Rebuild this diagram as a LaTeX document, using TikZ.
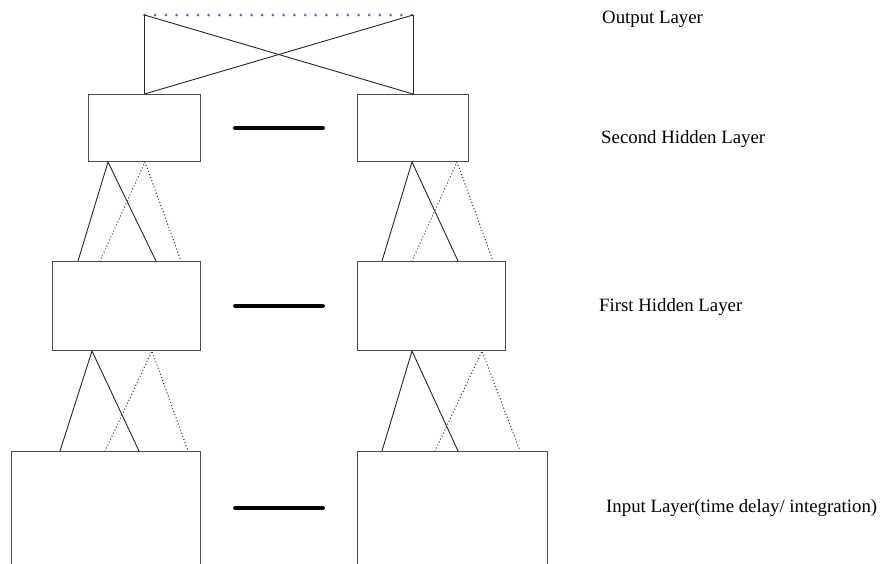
\documentclass[tikz,border=0pt]{standalone}
\usepackage{fontspec}
\setmainfont{Liberation Serif}
\usetikzlibrary{positioning,calc}
\definecolor{dotblue}{RGB}{78,108,206}

\begin{document}
\begin{tikzpicture}[x=1pt,y=1pt]
\tikzset{node distance=156pt,
    layer/.style={rectangle, draw=black!70, line width=1pt, inner sep=0pt},
    link/.style={draw=black!85, line width=0.9pt},
    weak/.style={draw=black!80, line width=1.4pt, line cap=round, dash pattern=on 0pt off 3.3pt},
    gap/.style={line width=4.8pt, line cap=round},
    outline/.style={draw=dotblue, line width=3pt, line cap=round, dash pattern=on 0pt off 10.7pt},
    tag/.style={anchor=base west, inner sep=0pt, font=\fontsize{18.8}{22}\selectfont}
}
  \useasboundingbox (0,0) rectangle (880,-563);
  \clip (0,0) rectangle (880,-563);

  \node[layer, minimum width=112pt, minimum height=67pt, anchor=north east] (hidBL) at (201,-94) {};
  \node[layer, minimum width=111pt, minimum height=67pt, right=of hidBL] (hidBR) {};
  \node[layer, minimum width=148pt, minimum height=89pt, anchor=north east] (hidAL) at (201,-261) {};
  \node[layer, minimum width=148pt, minimum height=89pt, right=of hidAL] (hidAR) {};
  \node[layer, minimum width=189pt, minimum height=113pt, anchor=north east] (inL) at (201,-451) {};
  \node[layer, minimum width=190pt, minimum height=113pt, right=of inL] (inR) {};
  \coordinate[above=79pt of hidBL.north] (outL);
  \coordinate[above=79pt of hidBR.north] (outR);

  % output layer
  \draw[outline] (outL) -- (outR);
  \draw[link] (hidBL.north) -- (outL);
  \draw[link] (hidBR.north) -- (outR);
  \draw[link] (hidBL.north) -- (outR);
  \draw[link] (hidBR.north) -- (outL);

  % second hidden -> first hidden
  \draw[link] ($(hidAL.north west)+(26,0)$) -- ($(hidBL.south west)+(20,0)$) -- ($(hidAL.north west)+(104,0)$);
  \draw[weak] ($(hidAL.north west)+(48,0)$) -- ($(hidBL.south west)+(57,0)$) -- ($(hidAL.north west)+(129,0)$);
  \draw[link] ($(hidAR.north west)+(25,0)$) -- ($(hidBR.south west)+(55,0)$) -- ($(hidAR.north west)+(101,0)$);
  \draw[weak] ($(hidAR.north west)+(55,0)$) -- ($(hidBR.south west)+(100,0)$) -- ($(hidAR.north west)+(136,0)$);

  % first hidden -> input
  \draw[link] ($(inL.north west)+(49,0)$) -- ($(hidAL.south west)+(40,0)$) -- ($(inL.north west)+(128,0)$);
  \draw[weak] ($(inL.north west)+(94,0)$) -- ($(hidAL.south west)+(100,0)$) -- ($(inL.north west)+(177,0)$);
  \draw[link] ($(inR.north west)+(25,0)$) -- ($(hidAR.south west)+(55,0)$) -- ($(inR.north west)+(101,0)$);
  \draw[weak] ($(inR.north west)+(78,0)$) -- ($(hidAR.south west)+(125,0)$) -- ($(inR.north west)+(163,0)$);

  \draw[gap] ($(hidBL.east)!0.5!(hidBR.west)$) +(-43.5,0) -- +(43.5,0);
  \draw[gap] ($(hidAL.east)!0.5!(hidAR.west)$) +(-43.5,0) -- +(43.5,0);
  \draw[gap] ($(inL.east)!0.5!(inR.west)$) +(-43.5,0) -- +(43.5,0);

  \node[tag] (outtag) at (602,-23) {Output Layer};
  \node[tag] (hidBtag) at (601,-143) {Second Hidden Layer};
  \node[tag] (hidAtag) at (599,-311) {First Hidden Layer};
  \node[tag] (intag) at (606,-512) {Input Layer(time delay/ integration)};
\end{tikzpicture}
\end{document}
